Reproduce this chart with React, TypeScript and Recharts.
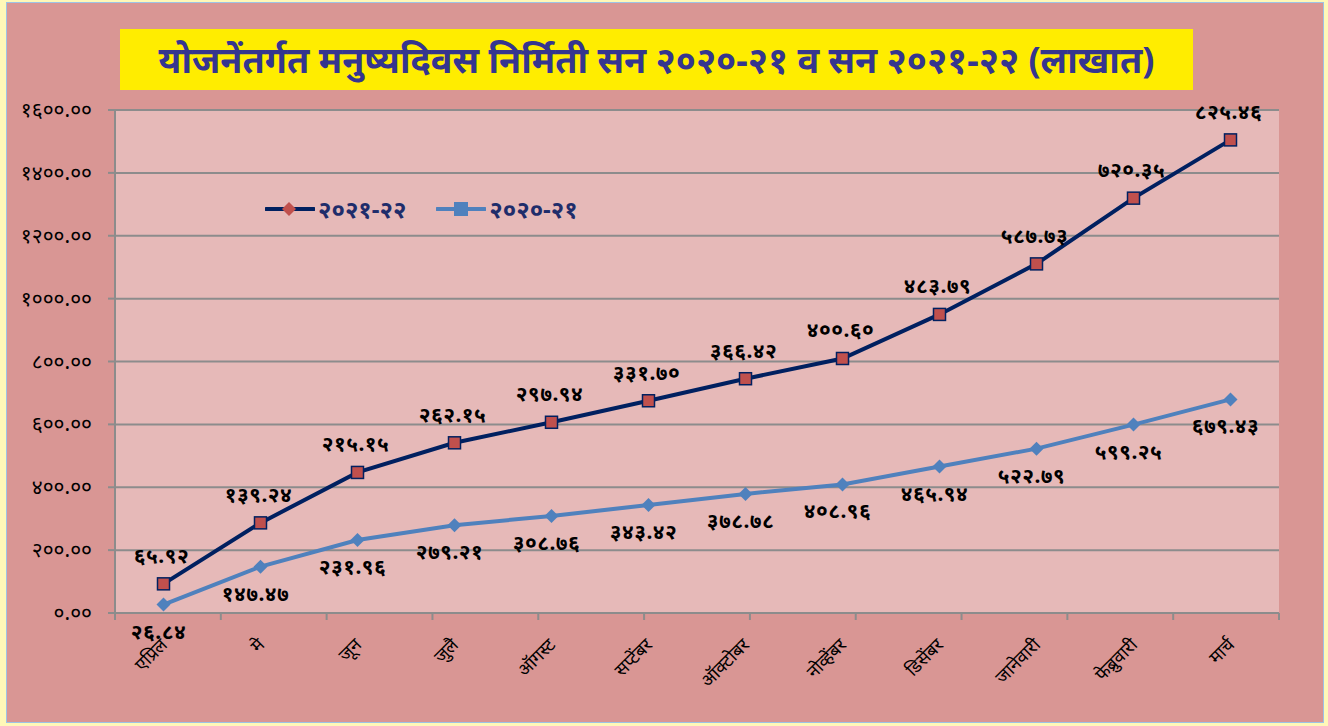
import React from 'react'
import { ComposedChart, Area, XAxis, YAxis, CartesianGrid } from 'recharts'

const months = ['एप्रिल', 'मे', 'जून', 'जुलै', 'ऑगस्ट', 'सप्टेंबर', 'ऑक्टोबर', 'नोव्हेंबर', 'डिसेंबर', 'जानेवारी', 'फेब्रुवारी', 'मार्च']
const days2020 = [26.84, 147.47, 231.96, 279.21, 308.76, 343.42, 378.78, 408.96, 465.94, 522.79, 599.25, 679.43]
const days2021 = [65.92, 139.24, 215.15, 262.15, 297.94, 331.70, 366.42, 400.60, 483.79, 587.73, 720.35, 825.46]
const yTicks = [0, 200, 400, 600, 800, 1000, 1200, 1400, 1600]
const edgeTicks = Array.from({ length: months.length + 1 }, (_, i) => i)

const title = 'योजनेंतर्गत मनुष्यदिवस निर्मिती सन २०२०-२१ व सन २०२१-२२ (लाखात)'
const name2021 = '२०२१-२२'
const name2020 = '२०२०-२१'

const FONT = '"Noto Sans", "DejaVu Sans", sans-serif'
const NAVY = '#002060'
const BLUE = '#4F81BD'
const RED = '#C0504D'
const GRID = '#8C8C8C'

const DIGITS = '०१२३४५६७८९'
const toDev = (s: string) => s.replace(/[0-9]/g, d => DIGITS[+d])
const fmt = (v: number) => toDev(v.toFixed(2))

const chartData = months.map((m, i) => ({ month: m, a2020: days2020[i], a2021: days2021[i] }))

const SquareDot = (props: any) => {
  const { cx, cy, index } = props
  if (cx == null || cy == null) return null
  return <rect key={`sq-${index}`} x={cx - 6} y={cy - 6} width={12} height={12} fill={RED} stroke={NAVY} strokeWidth={1.5} />
}

const DiamondDot = (props: any) => {
  const { cx, cy, index } = props
  if (cx == null || cy == null) return null
  const r = 7
  return <path key={`dm-${index}`} d={`M${cx},${cy - r}L${cx + r},${cy}L${cx},${cy + r}L${cx - r},${cy}Z`} fill={BLUE} />
}

const LabelAbove = (props: any) => {
  const { x, y, index } = props
  return (
    <text x={x - 2} y={y - 21} textAnchor="middle" fontSize={21} letterSpacing={0.5} fontWeight="bold" fill="#000" fontFamily={FONT}>
      {fmt(days2021[index])}
    </text>
  )
}

const LabelBelow = (props: any) => {
  const { x, y, index } = props
  return (
    <text x={x - 5} y={y + 34} textAnchor="middle" fontSize={21} letterSpacing={0.5} fontWeight="bold" fill="#000" fontFamily={FONT}>
      {fmt(days2020[index])}
    </text>
  )
}

const MonthTick = (props: any) => {
  const { x, y, payload } = props
  const tx = x + 5
  const ty = y + 24
  return (
    <text x={tx} y={ty} transform={`rotate(-45 ${tx} ${ty})`} textAnchor="end" fontSize={18} fill="#000" fontFamily={FONT}>
      {payload.value}
    </text>
  )
}

const ValueTick = (props: any) => {
  const { x, y, payload } = props
  return (
    <text x={x} y={y} dy={7} textAnchor="end" fontSize={21} fill="#000" fontFamily={FONT}>
      {fmt(payload.value)}
    </text>
  )
}

const LegendBox = () => (
  <div style={{ display: 'flex', alignItems: 'center', fontFamily: FONT, fontSize: 24, fontWeight: 'bold', color: '#1F2D6B' }}>
    <svg width={50} height={20}>
      <line x1={1} y1={10} x2={49} y2={10} stroke={NAVY} strokeWidth={4} strokeLinecap="round" />
      <path d="M24,3L31,10L24,17L17,10Z" fill={RED} />
    </svg>
    <span style={{ marginLeft: 3, marginRight: 30 }}>{name2021}</span>
    <svg width={50} height={20}>
      <line x1={1} y1={10} x2={49} y2={10} stroke={BLUE} strokeWidth={4} strokeLinecap="round" />
      <rect x={18} y={3} width={14} height={14} fill={BLUE} />
    </svg>
    <span style={{ marginLeft: 3 }}>{name2020}</span>
  </div>
)

export default function App() {
  return (
    <div style={{ position: 'absolute', left: 0, top: 0, width: 1328, height: 726, background: '#FFF8B8', overflow: 'hidden' }}>
      <div style={{ position: 'absolute', left: 6, top: 2, width: 1316, height: 719, background: '#D99694', border: '1px solid #9DC3E6' }} />
      <div
        style={{
          position: 'absolute', left: 120, top: 29, width: 1073, height: 61, background: '#FFED00',
          display: 'flex', alignItems: 'center', justifyContent: 'center',
          fontFamily: FONT, fontSize: 36, fontWeight: 'bold', color: '#35358F'
        }}
      >
        {title}
      </div>
      <div style={{ position: 'absolute', left: 0, top: 0 }}>
        <ComposedChart width={1328} height={726} data={chartData} margin={{ top: 110, right: 49, bottom: 53, left: 15 }}>
          <CartesianGrid vertical={false} stroke={GRID} strokeWidth={2} fill="#E6B9B8" />
          <XAxis
            xAxisId="a_edges"
            type="number"
            domain={[0, months.length]}
            ticks={edgeTicks}
            allowDataOverflow
            height={1}
            tick={() => <g />}
            tickSize={7}
            axisLine={{ stroke: GRID, strokeWidth: 2 }}
            tickLine={{ stroke: GRID, strokeWidth: 2 }}
          />
          <XAxis
            xAxisId="b_cat"
            dataKey="month"
            scale="band"
            height={59}
            interval={0}
            axisLine={false}
            tickLine={false}
            tick={<MonthTick />}
          />
          <YAxis
            domain={[0, 1600]}
            ticks={yTicks}
            width={100}
            tickSize={7}
            tickMargin={16}
            tick={<ValueTick />}
            axisLine={{ stroke: GRID, strokeWidth: 2 }}
            tickLine={{ stroke: GRID, strokeWidth: 2 }}
            interval={0}
          />
          <Area
            xAxisId="b_cat"
            type="linear"
            dataKey="a2020"
            stackId="s"
            stroke={BLUE}
            strokeWidth={4}
            fill="none"
            dot={<DiamondDot />}
            activeDot={false}
            label={<LabelBelow />}
            isAnimationActive={false}
          />
          <Area
            xAxisId="b_cat"
            type="linear"
            dataKey="a2021"
            stackId="s"
            stroke={NAVY}
            strokeWidth={4}
            fill="none"
            dot={<SquareDot />}
            activeDot={false}
            label={<LabelAbove />}
            isAnimationActive={false}
          />
        </ComposedChart>
      </div>
      <div style={{ position: 'absolute', left: 265, top: 192 }}>
        <LegendBox />
      </div>
    </div>
  )
}
